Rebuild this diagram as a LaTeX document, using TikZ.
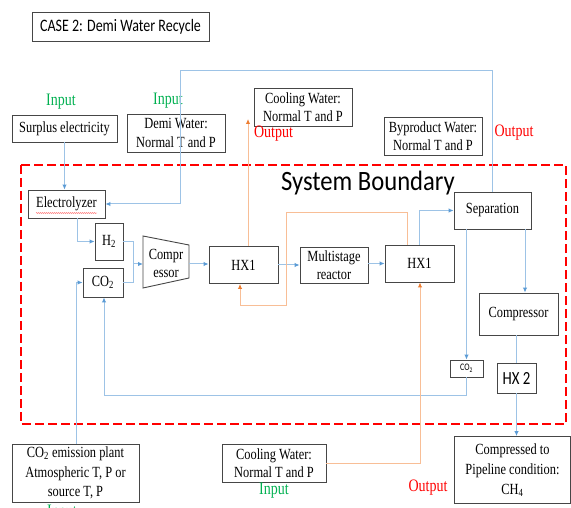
\documentclass[tikz,border=0pt]{standalone}
\usepackage{fontspec}
\setmainfont[FakeStretch=0.8]{Liberation Serif}
\newfontfamily\calib[FakeStretch=0.8]{Carlito}
\newfontfamily\calibwide[FakeStretch=0.88]{Carlito}
\usetikzlibrary{arrows.meta,decorations.pathmorphing}
\definecolor{bline}{RGB}{157,195,230}
\definecolor{btip}{RGB}{91,155,213}
\definecolor{oline}{RGB}{248,190,150}
\definecolor{otip}{RGB}{237,125,49}
\definecolor{ingreen}{RGB}{0,176,80}
\definecolor{boxgray}{RGB}{70,70,70}
\begin{document}
\begin{tikzpicture}[x=1pt,y=-1pt,
  box/.style={draw=boxgray, line width=0.9pt, inner sep=0pt, align=center, font=\fontsize{15.5}{18.5}\selectfont},
  bl/.style={draw=bline, line width=1pt},
  bla/.style={bl, -{Latex[length=5pt,width=4.5pt,color=btip]}},
  orl/.style={draw=oline, line width=1pt},
  ora/.style={orl, -{Latex[length=5pt,width=4.5pt,color=otip]}},
  inlab/.style={text=ingreen, font=\fontsize{17.5}{19}\selectfont, inner sep=0pt},
  outlab/.style={text=red, font=\fontsize{17.5}{19}\selectfont, inner sep=0pt}]
\clip (0,0) rectangle (571,508);
\useasboundingbox (0,0) rectangle (571,508);

% title
\node[draw=boxgray, line width=0.9pt, minimum width=177, minimum height=29, inner sep=0pt,
      font=\calib\fontsize{17.5}{19}\selectfont] (title) at (120.5,26.5) {CASE 2: Demi Water Recycle};

% system boundary
\draw[red, line width=2.5pt, dash pattern=on 9pt off 4pt] (21,165) rectangle (566,424);
\node[font=\calibwide\fontsize{28}{30}\selectfont, inner sep=0pt] (sysb) at (368,183.5) {System Boundary};

% outside boxes
\node[box, minimum width=105, minimum height=27] (surplus) at (64.5,128.5) {Surplus electricity};
\node[box, minimum width=98, minimum height=38] (demi) at (176,133) {Demi Water:\\Normal T and P};
\node[box, minimum width=98, minimum height=38] (cwt) at (303,107) {Cooling Water:\\Normal T and P};
\node[box, minimum width=98, minimum height=38] (byp) at (433,136) {Byproduct Water:\\Normal T and P};
\node[box, minimum width=127, minimum height=58, font=\fontsize{15.5}{19.5}\selectfont] (emis) at (75.5,473) {CO\textsubscript{2} emission plant\\Atmospheric T, P or\\source T, P};
\node[box, minimum width=104, minimum height=38] (cwb) at (274,463) {Cooling Water:\\Normal T and P};
\node[box, minimum width=116, minimum height=67, font=\fontsize{15.5}{20}\selectfont] (pipe) at (512.5,470) {Compressed to\\Pipeline condition:\\CH\textsubscript{4}};

% labels
\node[inlab] (in1) at (61,102) {Input};
\node[inlab] (in2) at (168,101) {Input};
\node[inlab] (in3) at (274,491) {Input};
\node[inlab] (in4) at (62,513) {Input};
\node[outlab] (out1) at (273.5,134) {Output};
\node[outlab] (out2) at (514,133) {Output};
\node[outlab] (out3) at (428,488) {Output};

% inside boxes
\node[box, minimum width=77, minimum height=28] (elec) at (66.5,204) {Electrolyzer};
\draw[red!75, line width=0.35pt, decorate, decoration={snake, amplitude=0.4pt, segment length=2pt}] (36,213) -- (97,213);
\node[box, minimum width=28, minimum height=37] (h2) at (109,241.5) {H\textsubscript{2}};
\node[box, minimum width=40, minimum height=29] (co2) at (103,282.5) {CO\textsubscript{2}};
\draw[boxgray, line width=0.9pt] (143,236) -- (189,245) -- (189,278) -- (143,288) -- cycle;
\node[align=center, inner sep=0pt, font=\fontsize{15.5}{18}\selectfont] (compr) at (166,263) {Compr\\essor};
\coordinate (cin) at (143,264);
\coordinate (cout) at (189,264);
\node[box, minimum width=69, minimum height=37] (hx1a) at (243.5,265) {HX1};
\node[box, minimum width=68, minimum height=36, font=\fontsize{15.5}{18}\selectfont] (reactor) at (334,265) {Multistage\\reactor};
\node[box, minimum width=69, minimum height=37] (hx1b) at (419.5,263.5) {HX1};
\node[box, minimum width=77, minimum height=37] (sep) at (492.5,210.5) {Separation};
\node[box, minimum width=79, minimum height=42] (comp) at (518.5,314) {Compressor};
\node[draw=boxgray, line width=0.9pt, minimum width=33, minimum height=17, inner sep=0pt,
      font=\calib\fontsize{10}{11}\selectfont] (co2s) at (466.5,368.5) {CO\textsubscript{2}};
\node[draw=boxgray, line width=0.9pt, minimum width=39, minimum height=30, inner sep=0pt,
      font=\calib\fontsize{18.5}{20}\selectfont] (hx2) at (516.5,378) {HX 2};

% blue connectors
\draw[bla] (surplus.south) -- (surplus.south |- elec.north);
\coordinate (dw1) at (180,71);
\coordinate (dw2) at (180,204);
\draw[bla] (sep.north) |- (dw1) -- (dw2) -- (elec.east);
\draw[bla] ([xshift=10.5pt]elec.south) |- (h2.west);
\coordinate (merge) at (133,264);
\draw[bl] (h2.east) -| (merge);
\draw[bl] (co2.east) -| (merge);
\draw[bla] (merge) -- (cin);
\draw[bla] (cout) -- (cout -| hx1a.west);
\draw[bla] (hx1a.east |- reactor.west) -- (reactor.west);
\draw[bla] (reactor.east |- 0,263.5) -- (hx1b.west);
\draw[bla] (hx1b.north) |- (sep.west);
\draw[bla] ([xshift=32.5pt]sep.south) -- ([xshift=32.5pt]sep.south |- comp.north);
\draw[bla] (sep.south -| co2s.north) -- (co2s.north);
\coordinate (rc1) at (466.5,395);
\coordinate (rc2) at (104,395);
\draw[bla] (co2s.south) -- (rc1) -- (rc2) -- ([xshift=1pt]co2.south);
\draw[bl] (comp.south -| hx2.north) -- (hx2.north);
\draw[bla] (hx2.south) -- (hx2.south |- pipe.north);
\coordinate (em1) at (76,282.5);
\draw[bla] (emis.north -| em1) -- (em1) -- (co2.west);

% orange connectors
\coordinate (ot) at (248,119);
\draw[ora] ([xshift=4.5pt]hx1a.north) -- (ot);
\coordinate (lp1) at (407,213);
\coordinate (lp2) at (286,213);
\coordinate (lp3) at (286,305);
\coordinate (lp4) at (240,305);
\draw[ora] ([xshift=-12.5pt]hx1b.north) -- (lp1) -- (lp2) -- (lp3) -- (lp4) -- ([xshift=-3.5pt]hx1a.south);
\coordinate (cw1) at (420,463);
\draw[ora] (cwb.east) -- (cw1) -- (cw1 |- hx1b.south);
\end{tikzpicture}
\end{document}
